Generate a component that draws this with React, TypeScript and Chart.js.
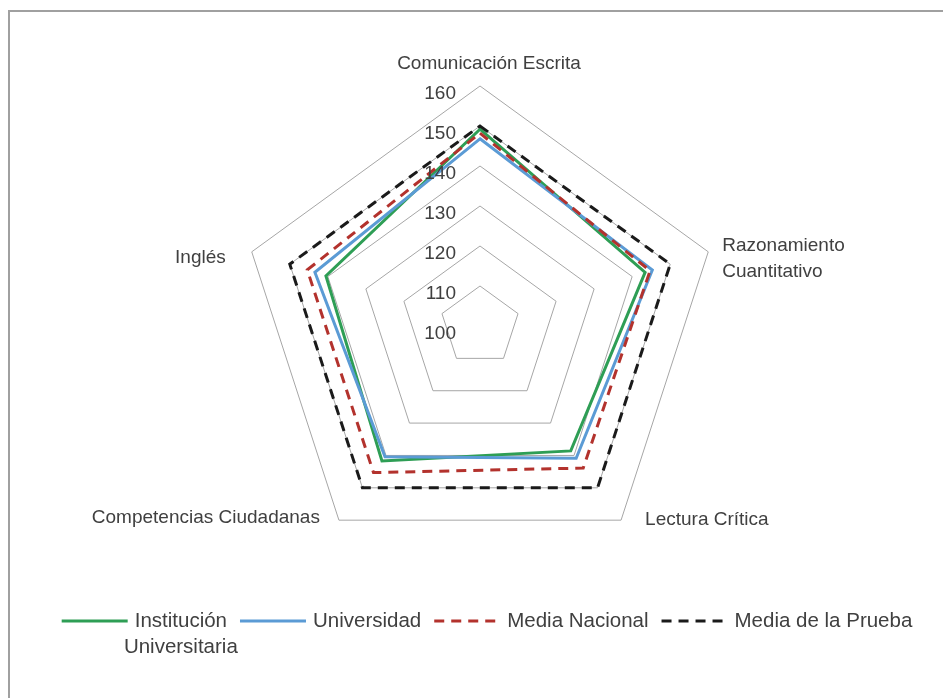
import React, { useEffect, useRef } from "react";
import { Chart, registerables } from "chart.js";

Chart.register(...registerables);

// ---- Data ----
const categories: (string | string[])[] = [
  "Comunicación Escrita",
  ["Razonamiento", "Cuantitativo"],
  "Lectura Crítica",
  "Competencias Ciudadanas",
  "Inglés",
];
const seriesNames = ["Institución Universitaria", "Universidad", "Media Nacional", "Media de la Prueba"];
const legendLines = [["Institución", "Universitaria"], ["Universidad"], ["Media Nacional"], ["Media de la Prueba"]];
const institucion = [149.2, 143.4, 138.6, 141.7, 140.5];
const universidad = [146.8, 145.3, 140.9, 140.4, 143.4];
const mediaNacional = [148.2, 144.7, 143.9, 145.3, 145.4];
const mediaPrueba = [150, 150, 150, 150, 150];
const scaleMin = 100;
const scaleMax = 160;
const scaleStep = 10;

// ---- Styles ----
const TEXT = "#404040";
const FONT = '"Liberation Sans", Arial, sans-serif';
const colors = ["#2E9E55", "#5B9BD5", "#B3322D", "#1A1A1A"];
const dashes = [[], [], [10, 7], [10, 7]];

const labelPlugin = {
  id: "customLabels",
  afterDraw(chart: any) {
    const scale = chart.scales.r;
    const ctx = chart.ctx as CanvasRenderingContext2D;
    ctx.save();
    ctx.fillStyle = TEXT;
    ctx.font = `19px ${FONT}`;

    // tick labels
    ctx.textAlign = "right";
    ctx.textBaseline = "middle";
    scale.ticks.forEach((t: any) => {
      const d = scale.getDistanceFromCenterForValue(t.value);
      ctx.fillText(String(t.value), scale.xCenter - 24, scale.yCenter - d + 8);
    });

    // point labels
    const place = [
      { align: "center", dx: 9, dy: -22 },
      { align: "left", dx: 14, dy: -6 },
      { align: "left", dx: 24, dy: 0 },
      { align: "right", dx: -19, dy: -2 },
      { align: "right", dx: -26, dy: 6 },
    ];
    const labels = chart.data.labels;
    labels.forEach((lbl: any, i: number) => {
      const p = scale.getPointPosition(i, scale.drawingArea);
      const lines = Array.isArray(lbl) ? lbl : [lbl];
      ctx.textAlign = place[i].align as CanvasTextAlign;
      lines.forEach((ln: string, k: number) => {
        ctx.fillText(ln, p.x + place[i].dx, p.y + place[i].dy + k * 26);
      });
    });

    // legend
    ctx.font = `20.5px ${FONT}`;
    ctx.textAlign = "left";
    const lineLen = 66;
    const gapLT = 7;
    const gapItem = 13;
    const y = 621;
    const widths = legendLines.map((ls) => ctx.measureText(ls[0]).width);
    const total = widths.reduce((a, w) => a + lineLen + gapLT + w, 0) + gapItem * (widths.length - 1);
    let x = 487 - total / 2;
    chart.data.datasets.forEach((ds: any, i: number) => {
      ctx.save();
      ctx.strokeStyle = ds.borderColor;
      ctx.lineWidth = 3;
      ctx.setLineDash(ds.borderDash || []);
      ctx.beginPath();
      ctx.moveTo(x, y);
      ctx.lineTo(x + lineLen, y);
      ctx.stroke();
      ctx.restore();
      const tx = x + lineLen + gapLT;
      const w0 = widths[i];
      legendLines[i].forEach((ln, k) => {
        if (k === 0) {
          ctx.fillText(ln, tx, y);
        } else {
          const wk = ctx.measureText(ln).width;
          ctx.fillText(ln, tx + w0 / 2 - wk / 2, y + k * 26);
        }
      });
      x = tx + w0 + gapItem;
    });
    ctx.restore();
  },
};

export default function App() {
  const ref = useRef<HTMLCanvasElement>(null);
  useEffect(() => {
    const series = [institucion, universidad, mediaNacional, mediaPrueba];
    const chart = new Chart(ref.current!, {
      type: "radar",
      data: {
        labels: categories,
        datasets: series.map((s, i) => ({
          label: seriesNames[i],
          data: s,
          borderColor: colors[i],
          backgroundColor: "transparent",
          borderWidth: 3,
          borderDash: dashes[i],
          borderJoinStyle: "miter" as const,
          pointRadius: 0,
          pointHoverRadius: 0,
          fill: false,
          order: 3 - i,
        })),
      },
      options: {
        animation: false,
        responsive: false,
        layout: { padding: { left: 240, right: 223, top: 86, bottom: 132 } },
        plugins: { legend: { display: false }, tooltip: { enabled: false } },
        scales: {
          r: {
            min: scaleMin,
            max: scaleMax,
            ticks: { stepSize: scaleStep, display: false },
            grid: { color: "#A6A6A6", lineWidth: 1 },
            angleLines: { display: false },
            pointLabels: { display: false },
          },
        },
      },
      plugins: [labelPlugin],
    });
    return () => chart.destroy();
  }, []);
  return (
    <>
      <div
        style={{
          position: "fixed",
          left: 8,
          top: 10,
          width: 935,
          height: 688,
          boxSizing: "border-box",
          borderLeft: "2px solid #A0A0A0",
          borderTop: "2px solid #A0A0A0",
        }}
      />
      <canvas
        ref={ref}
        width={943}
        height={698}
        style={{ position: "fixed", left: 0, top: 0, width: 943, height: 698 }}
      />
    </>
  );
}
